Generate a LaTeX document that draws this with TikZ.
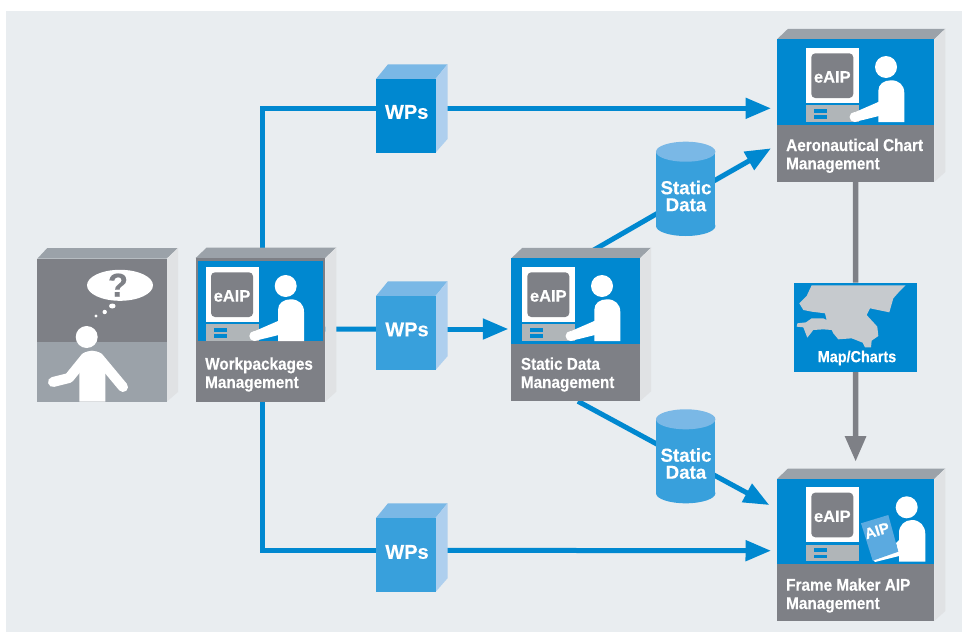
\documentclass[tikz,border=0pt]{standalone}
\usepackage{fontspec}
\setmainfont{Liberation Sans}[BoldFeatures={FakeBold=0.25}]
\newfontfamily\condface[FakeStretch=0.9,BoldFeatures={FakeBold=0.25}]{Liberation Sans}
\usetikzlibrary{arrows.meta}
\definecolor{pagebg}{HTML}{E9EDF0}
\definecolor{sgrey}{HTML}{7E8086}
\definecolor{tgrey}{HTML}{9BA2A9}
\definecolor{sidegrey}{HTML}{E0E2E4}
\definecolor{bblue}{HTML}{0088D0}
\definecolor{lblue}{HTML}{38A0DC}
\definecolor{topblue}{HTML}{7AB8E6}
\definecolor{sideblue}{HTML}{AECFEE}
\definecolor{deskgrey}{HTML}{B0B5B8}
\definecolor{mapgrey}{HTML}{C6CACE}
\definecolor{bookblue}{HTML}{5BAAE0}
\pgfdeclarelayer{backdrop}
\pgfdeclarelayer{wires}
\pgfsetlayers{backdrop,wires,main}
\tikzset{
  face/.style={rectangle,inner sep=0pt,outer sep=0pt,draw=none},
  cubelabel/.style={anchor=base west,inner sep=0pt,text=white,align=left,
    font=\condface\bfseries\fontsize{17}{18.3}\selectfont},
  bluewire/.style={draw=bblue,line width=5pt},
  greywire/.style={draw=sgrey,line width=5.5pt},
  headtip/.style={-{Triangle[length=25.5pt,width=20pt]}},
  wptext/.style={text=white,inner sep=0pt,font=\bfseries\fontsize{20}{22}\selectfont},
  datatext/.style={text=white,inner sep=0pt,align=center,font=\bfseries\fontsize{18.7}{17}\selectfont},
  eaiptext/.style={text=white,inner sep=0pt,font=\bfseries\fontsize{16.5}{18}\selectfont},
}
% name, xl, yt, xr, yb, front, top, side
\newcommand\cubeface[8]{%
  \fill[#7] (#2,#3) -- ({#2+11},{#3-10.5}) -- ({#4+11},{#3-10.5}) -- (#4,#3) -- cycle;
  \fill[#8] (#4,#3) -- ({#4+11},{#3-10.5}) -- ({#4+11},{#5-10}) -- (#4,#5) -- cycle;
  \node[face,fill=#6,minimum width={(#4-#2)*1pt},minimum height={(#5-#3)*1pt}] (#1) at ({(#2+#4)/2},{(#3+#5)/2}) {};
}
\newcommand\wpcube[5]{%
  \fill[topblue] (#2,#3) -- ({#2+12},{#3-14.7}) -- ({#4+12},{#3-14.7}) -- (#4,#3) -- cycle;
  \fill[sideblue] (#4,#3) -- ({#4+12},{#3-14.7}) -- ({#4+12},{#5-13.7}) -- (#4,#5) -- cycle;
  \node[face,fill=\wpfill,minimum width={(#4-#2)*1pt},minimum height={(#5-#3)*1pt}] (#1) at ({(#2+#4)/2},{(#3+#5)/2}) {};
}
% name, xl, xr, ytopcentre, ybottomcentre
\newcommand\drum[5]{%
  \fill[lblue] ({(#2+#3)/2},#5) ellipse [x radius={(#3-#2)/2},y radius=10];
  \node[face,fill=lblue,minimum width={(#3-#2)*1pt},minimum height={(#5-#4)*1pt}] (#1) at ({(#2+#3)/2},{(#4+#5)/2}) {};
  \fill[topblue] ({(#2+#3)/2},#4) ellipse [x radius={(#3-#2)/2},y radius=10];
}
% monitor at top-left x,y ; node name
\newcommand\deskunit[3]{%
  \begin{scope}[shift={(#1,#2)}]
    \fill[white] (0,0) rectangle (53,55);
    \fill[sgrey,rounded corners=4pt] (5.3,5.3) rectangle (47.3,50);
    \fill[deskgrey] (0,57.3) rectangle (53,74);
    \fill[bblue] (8.3,61) rectangle (21.3,64.7);
    \fill[bblue] (8.3,67.3) rectangle (21.3,70.7);
    \node[eaiptext] (#3) at (26.3,29) {eAIP};
  \end{scope}
}
\newcommand\operatorfig[2]{%
  \begin{scope}[shift={(#1,#2)}]
    \fill[white] (80,19) circle [radius=11];
    \fill[white] (72.3,74) -- (72.3,43) .. controls (72.3,36) and (78,32.3) .. (85,32.3)
      .. controls (93,32.3) and (98.3,37) .. (98.3,45) -- (98.3,74) -- cycle;
    \fill[white] (73,53.7) -- (49.3,64) -- (48.6,74) -- (73,68) -- cycle;
    \fill[white] (48.6,69) circle [radius=5];
  \end{scope}
}
\begin{document}
\begin{tikzpicture}[x=1pt,y=-1pt]
\useasboundingbox (0,0) rectangle (962,632);
\begin{pgfonlayer}{backdrop}
  \fill[white] (0,0) rectangle (962,632);
  \fill[pagebg] (6,11) rectangle (962,632);
\end{pgfonlayer}

% Question box
\fill[tgrey] (37.3,258.7) -- (47.3,248) -- (178,248) -- (166.7,258.7) -- cycle;
\fill[sidegrey] (166.7,258.7) -- (178,248) -- (178,392) -- (166.7,401.7) -- cycle;
\node[face,fill=tgrey,minimum width=129.4pt,minimum height=143pt] (ask) at (102,330.2) {};
\fill[sgrey] (37.3,258.7) rectangle (166.7,342);
\fill[white] (120,285.3) ellipse [x radius=33,y radius=15.5];
\node[inner sep=0pt,text=sgrey,font=\bfseries\fontsize{33}{35}\selectfont] (askmark) at (118,285) {?};
\fill[white] (112.3,306) ellipse [x radius=3.3,y radius=2.5];
\fill[white] (104.7,312) circle [radius=2.2];
\fill[white] (96,316) circle [radius=1.7];
\fill[white] (86.7,337) circle [radius=11];
\fill[white] (79.3,401.7) -- (79.3,365) .. controls (79.3,355) and (85,350.7) .. (92,350.7)
  .. controls (99,350.7) and (105.3,355) .. (105.3,365) -- (105.3,401.7) -- cycle;
\draw[white,line width=10pt,line cap=round,line join=round] (53,382) -- (69,378) -- (86,357);
\draw[white,line width=10pt,line cap=round] (123,387) -- (98,357);

% Workpackages
\cubeface{wm}{195.7}{258}{325.3}{401.7}{sgrey}{tgrey}{sidegrey}
\fill[bblue] (198.3,261) rectangle (323,341);
\deskunit{205.7}{267}{eaipa}
\operatorfig{205.7}{267}
\node[cubelabel] (wmt) at (205,388) {Workpackages\\Management};

% Static data management
\cubeface{static}{511.3}{258.3}{640}{401.3}{sgrey}{tgrey}{sidegrey}
\fill[bblue] (511.3,258.3) rectangle (640,343.7);
\deskunit{522}{267}{eaipb}
\operatorfig{522}{267}
\node[cubelabel] (statict) at (520.7,388) {Static Data\\Management};

% Aeronautical chart
\cubeface{aero}{777}{39.3}{934.3}{182}{sgrey}{tgrey}{sidegrey}
\fill[bblue] (777,39.3) rectangle (934.3,124.7);
\deskunit{806}{48}{eaipc}
\operatorfig{806}{48}
\node[cubelabel] (aerot) at (786,169.3) {Aeronautical Chart\\Management};

% Frame Maker
\cubeface{frame}{777}{479}{934.3}{621}{sgrey}{tgrey}{sidegrey}
\fill[bblue] (777,479) rectangle (934.3,564);
\deskunit{806}{487.3}{eaipd}
\fill[white] (906.7,507.3) circle [radius=11];
\fill[white] (899,561.7) -- (899,533) .. controls (899,525) and (905,520) .. (912,520)
  .. controls (920,520) and (925.3,526) .. (925.3,534) -- (925.3,561.7) -- cycle;
\fill[white] (899,540) -- (896,543) -- (898,552) -- (899,552) -- cycle;
\fill[white] (872.7,559.5) -- (899,551) -- (899,556) -- (875,562) -- cycle;
\fill[bookblue] (861,523.3) -- (888.3,515) -- (898.3,551.7) -- (872.7,560.7) -- cycle;
\node[rotate=17,text=white,inner sep=0pt,font=\bfseries\fontsize{15}{17}\selectfont] (aipbook) at (877,530.7) {AIP};
\node[cubelabel] (framet) at (786,609) {Frame Maker AIP\\Management};

% Map
\node[face,fill=bblue,minimum width=122.4pt,minimum height=89.3pt] (map) at (855.5,327.35) {};
\fill[mapgrey,shift={(770,270)},x=0.3333pt,y=-0.3333pt]
  (125,46) -- (407,46) -- (385,68) -- (370,85) -- (358,127) -- (300,115) -- (290,135) -- (322,170)
  -- (325,198) -- (305,212) -- (303,232) -- (285,232) -- (278,218) -- (245,205) -- (205,208)
  -- (190,190) -- (185,180) -- (160,178) -- (130,180) -- (112,203) -- (100,172) -- (80,170)
  -- (82,160) -- (108,157) -- (125,145) -- (160,145) -- (170,150) -- (165,130) -- (125,125)
  -- (100,120) -- (88,100) -- (110,78) -- cycle;
\node[inner sep=0pt,text=white,font=\condface\bfseries\fontsize{16}{18}\selectfont] (mapt) at (857,358) {Map/Charts};

% WP cubes
\def\wpfill{bblue}
\wpcube{wpa}{376}{79}{435.5}{152.7}
\def\wpfill{lblue}
\wpcube{wpb}{376}{296}{435.5}{370}
\wpcube{wpc}{376}{518}{435.5}{592}
\node[wptext] (wpat) at (406.7,112) {WPs};
\node[wptext] (wpbt) at (407,329.5) {WPs};
\node[wptext] (wpct) at (407,552) {WPs};

% Data drums
\drum{sda}{656}{715.4}{151.7}{226}
\drum{sdb}{656}{715.4}{419.3}{493.3}
\node[datatext] (sdat) at (686,196) {Static\\Data};
\node[datatext] (sdbt) at (686,463.5) {Static\\Data};

% Connectors
\begin{pgfonlayer}{wires}
  \draw[bluewire] ([xshift=1.8pt]wm.north) |- ([yshift=7.55pt]wpa.west);
  \draw[bluewire,headtip,shorten >=6pt] ([yshift=7.55pt]wpa.east) -- ([yshift=2.35pt]aero.west);
  \draw[bluewire] ([yshift=0.85pt]wm.east) -- ([yshift=4pt]wpb.west);
  \draw[bluewire,headtip,shorten >=3pt] ([yshift=4pt]wpb.east) -- ([yshift=0.8pt]static.west);
  \draw[bluewire] ([xshift=1.8pt]wm.south) |- ([yshift=4.65pt]wpc.west);
  \draw[bluewire,headtip,shorten >=6pt] ([yshift=4.65pt]wpc.east) -- ([yshift=-0.7pt]frame.west);
  \draw[bluewire] ([xshift=3.8pt]static.north) -- ([yshift=-8.15pt]sda.center);
  \draw[bluewire,headtip,shorten >=6.9pt] ([yshift=-8.15pt]sda.center) -- ([yshift=-34.25pt]aero.west);
  \draw[bluewire] ([xshift=2.3pt]static.south) -- ([yshift=-3.4pt]sdb.center);
  \draw[bluewire,headtip,shorten >=8.8pt] ([yshift=-3.4pt]sdb.center) -- ([yshift=40.8pt]frame.west);
  \draw[greywire] (aero.south) -- (map.north);
  \draw[greywire,headtip,shorten >=17.3pt] (map.south) -- (frame.north);
\end{pgfonlayer}
\end{tikzpicture}
\end{document}
